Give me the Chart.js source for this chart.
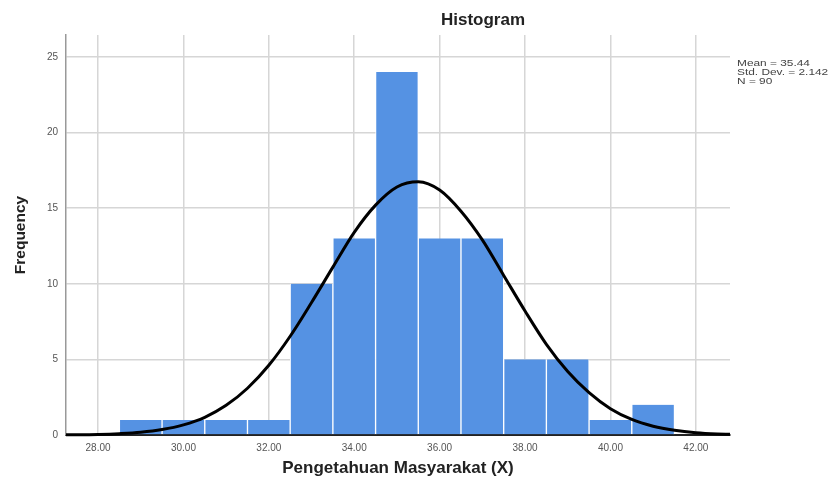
<!DOCTYPE html>
<html lang="en">
<head>
<meta charset="UTF-8">
<title>Histogram</title>
<script src="https://cdn.jsdelivr.net/npm/chart.js@4.4.6/dist/chart.umd.min.js"></script>
<style>
  *, *::before, *::after { box-sizing: border-box; margin: 0; padding: 0; }
  body { background: #fff; width: 836px; height: 483px; overflow: hidden; font-family: "Liberation Sans", Arial, sans-serif; }
  .wrap { position: relative; width: 836px; height: 483px; }
  .title { position: absolute; left: 383px; width: 200px; top: 10px; text-align: center; font-size: 17px; font-weight: bold; color: #222; }
  .stats { position: absolute; left: 737px; top: 58px; font-size: 9.5px; line-height: 9px; color: #444; transform: scaleX(1.25); transform-origin: left top; white-space: nowrap; }
  canvas { display: block; }
</style>
</head>
<body>
<div class="wrap">
  <canvas id="chart" width="836" height="483"></canvas>
  <div class="title">Histogram</div>
  <div class="stats">Mean = 35.44<br>Std. Dev. = 2.142<br>N = 90</div>
</div>
<script>
// bins (midpoints) and frequencies
const binCentres = [29, 30, 31, 32, 33, 34, 35, 36, 37, 38, 39, 40, 41];
const frequencies = [1, 1, 1, 1, 10, 13, 24, 13, 13, 5, 5, 1, 2];

// normal curve
const curveX = [27.25, 28, 28.5, 29, 29.5, 30, 30.5, 31, 31.5, 32, 32.5, 33, 33.5, 34, 34.5, 35, 35.5,
                36, 36.5, 37, 37.5, 38, 38.5, 39, 39.5, 40, 40.5, 41, 41.5, 42, 42.5, 42.8];
const curveY = [0.01, 0.04, 0.09, 0.18, 0.36, 0.67, 1.17, 1.96, 3.09, 4.61, 6.53, 8.76, 11.1, 13.4, 15.2, 16.4, 16.75,
                16.2, 14.8, 12.9, 10.55, 8.2, 6.0, 4.2, 2.8, 1.74, 1.03, 0.58, 0.31, 0.15, 0.07, 0.05];

const xTicks = [28, 30, 32, 34, 36, 38, 40, 42];
const yTicks = [0, 5, 10, 15, 20, 25];

const tickFont = { family: '"Liberation Sans", Arial, sans-serif', size: 10 };
const xTitleFont = { family: '"Liberation Sans", Arial, sans-serif', size: 17, weight: 'bold' };
const yTitleFont = { family: '"Liberation Sans", Arial, sans-serif', size: 15.5, weight: 'bold' };

new Chart(document.getElementById('chart'), {
  data: {
    datasets: [
      {
        type: 'line',
        data: curveX.map((x, i) => ({ x, y: curveY[i] })),
        borderColor: '#000',
        borderWidth: 3,
        pointRadius: 0,
        cubicInterpolationMode: 'monotone',
        clip: false,
        order: 0,
      },
      {
        type: 'bar',
        data: binCentres.map((x, i) => ({ x, y: frequencies[i] })),
        backgroundColor: '#5592e3',
        borderColor: '#ffffff',
        borderWidth: { left: 1, right: 1, top: 0, bottom: 0 },
        barPercentage: 1,
        categoryPercentage: 1,
        order: 1,
      },
    ],
  },
  options: {
    responsive: false,
    animation: false,
    events: [],
    layout: { padding: { left: 0, right: 106, top: 35, bottom: 0 } },
    plugins: { legend: { display: false }, tooltip: { enabled: false } },
    scales: {
      x: {
        type: 'linear',
        min: 27.25,
        max: 42.8,
        offset: false,
        afterBuildTicks: s => { s.ticks = xTicks.map(v => ({ value: v })); },
        afterFit: s => { s.height = 48; },
        ticks: { color: '#555', font: tickFont, padding: 7, maxRotation: 0, callback: v => v.toFixed(2) },
        grid: { color: '#d6d6d6', lineWidth: 1.5, drawTicks: false, offset: false },
        border: { color: '#222', width: 2 },
        title: { display: true, text: 'Pengetahuan Masyarakat (X)', color: '#222', font: xTitleFont, padding: { top: 9 } },
      },
      y: {
        type: 'linear',
        min: 0,
        max: 26.45,
        afterBuildTicks: s => { s.ticks = yTicks.map(v => ({ value: v })); },
        afterFit: s => { s.width = 66; },
        ticks: { color: '#555', font: tickFont, padding: 8 },
        grid: { color: '#d6d6d6', lineWidth: 1.5, drawTicks: false },
        border: { color: '#999', width: 1.5 },
        title: { display: true, text: 'Frequency', color: '#222', font: yTitleFont, padding: { top: 11, bottom: 0 } },
      },
    },
  },
});
</script>
</body>
</html>
